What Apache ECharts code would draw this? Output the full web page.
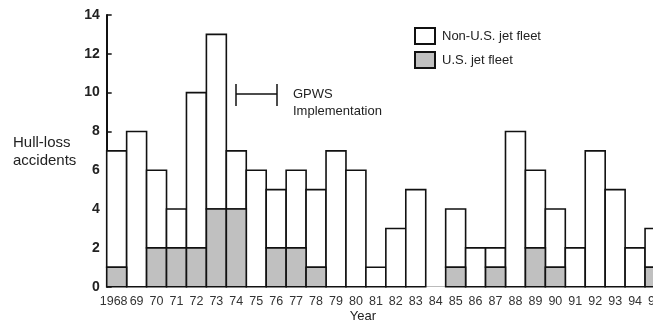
<!DOCTYPE html>
<html>
<head>
<meta charset="utf-8">
<script src="https://cdn.jsdelivr.net/npm/echarts@6/dist/echarts.min.js"></script>
<style>
html,body{margin:0;padding:0;background:#fff;}
#c{width:653px;height:324px;}
</style>
</head>
<body>
<div id="c"></div>
<script>
const years = ['1968','69','70','71','72','73','74','75','76','77','78','79','80','81','82','83','84','85','86','87','88','89','90','91','92','93','94','95'];
const usFleet =    [1,0,2,2,2,4,4,0,2,2,1,0,0,0,0,0,0,1,0,1,0,2,1,0,0,0,0,1];
const nonUsFleet = [6,8,4,2,8,9,3,6,3,4,4,7,6,1,3,5,0,3,2,1,8,4,3,2,7,5,2,2];
const yTicks = [0,2,4,6,8,10,12,14];

const FONT = '"Liberation Sans Narrow", "Liberation Sans", Arial, sans-serif';
const chart = echarts.init(document.getElementById('c'), null, {renderer:'canvas'});

// stacked bars drawn through the axes' own scales (api.coord / api.size)
function stackRender(baseArr, fill) {
  return function (params, api) {
    const idx = api.value(0);
    const v = api.value(1);
    if (!v) return null;
    const base = baseArr[idx];
    const bottom = api.coord([idx, base]);
    const top = api.coord([idx, base + v]);
    const w = api.size([1, 0])[0];
    return {
      type:'rect',
      shape:{x: bottom[0] - w/2, y: top[1], width: w, height: bottom[1] - top[1]},
      style:{fill: fill, stroke:'#111', lineWidth:1.6}
    };
  };
}
const zeros = years.map(() => 0);

chart.setOption({
  animation:false,
  backgroundColor:'#fff',
  grid:{left:106.7, top:15, width:558.3, height:271.7, containLabel:false, outerBoundsMode:'none'},
  xAxis:{
    type:'category', data:years,
    axisLine:{show:true, lineStyle:{color:'#bbb', width:1}},
    axisTick:{show:false},
    axisLabel:{color:'#333', fontFamily:FONT, fontSize:12.5, margin:8, interval:0,
      formatter: (v, i) => i === 0 ? '{f|' + v + '}' : v,
      rich:{f:{fontFamily:FONT, fontSize:12.5, color:'#333', padding:[0,6,0,0]}}}
  },
  yAxis:{
    type:'value', min:0, max:14, interval:2,
    axisLine:{show:true, lineStyle:{color:'#111', width:2}},
    axisTick:{show:true, inside:true, length:5, lineStyle:{color:'#111', width:1.5}},
    axisLabel:{color:'#222', fontFamily:FONT, fontSize:14, fontWeight:'bold', margin:7,
      formatter: v => yTicks.includes(v) ? String(v) : ''},
    splitLine:{show:false}
  },
  legend:{show:false},
  series:[
    {name:'U.S. jet fleet', type:'custom', renderItem: stackRender(zeros, '#c0c0c0'),
     data: usFleet.map((v,i) => [i, v]), encode:{x:0, y:1}, z:2},
    {name:'Non-U.S. jet fleet', type:'custom', renderItem: stackRender(usFleet, '#fff'),
     data: nonUsFleet.map((v,i) => [i, v]), encode:{x:0, y:1}, z:1}
  ],
  graphic:[
    {type:'rect', shape:{x:415,y:28,width:20,height:16}, style:{fill:'#fff', stroke:'#111', lineWidth:2}},
    {type:'rect', shape:{x:415,y:52,width:20,height:16}, style:{fill:'#c0c0c0', stroke:'#111', lineWidth:2}},
    {type:'text', x:442, y:36, style:{text:'Non-U.S. jet fleet', fill:'#222', font:'13px '+FONT, textVerticalAlign:'middle'}},
    {type:'text', x:442, y:60, style:{text:'U.S. jet fleet', fill:'#222', font:'13px '+FONT, textVerticalAlign:'middle'}},
    {type:'line', shape:{x1:236,y1:94,x2:277,y2:94}, style:{stroke:'#111', lineWidth:1.5}},
    {type:'line', shape:{x1:236,y1:84,x2:236,y2:106}, style:{stroke:'#111', lineWidth:1.5}},
    {type:'line', shape:{x1:277,y1:84,x2:277,y2:106}, style:{stroke:'#111', lineWidth:1.5}},
    {type:'text', x:293, y:94, style:{text:'GPWS', fill:'#222', font:'13px '+FONT, textVerticalAlign:'middle'}},
    {type:'text', x:293, y:111, style:{text:'Implementation', fill:'#222', font:'13px '+FONT, textVerticalAlign:'middle'}},
    {type:'text', x:13, y:143, style:{text:'Hull-loss', fill:'#222', font:'15px '+FONT, textVerticalAlign:'middle'}},
    {type:'text', x:13, y:161, style:{text:'accidents', fill:'#222', font:'15px '+FONT, textVerticalAlign:'middle'}},
    {type:'text', x:363, y:316, style:{text:'Year', fill:'#222', font:'13px "Liberation Sans", Arial, sans-serif', textAlign:'center', textVerticalAlign:'middle'}}
  ]
});
</script>
</body>
</html>
